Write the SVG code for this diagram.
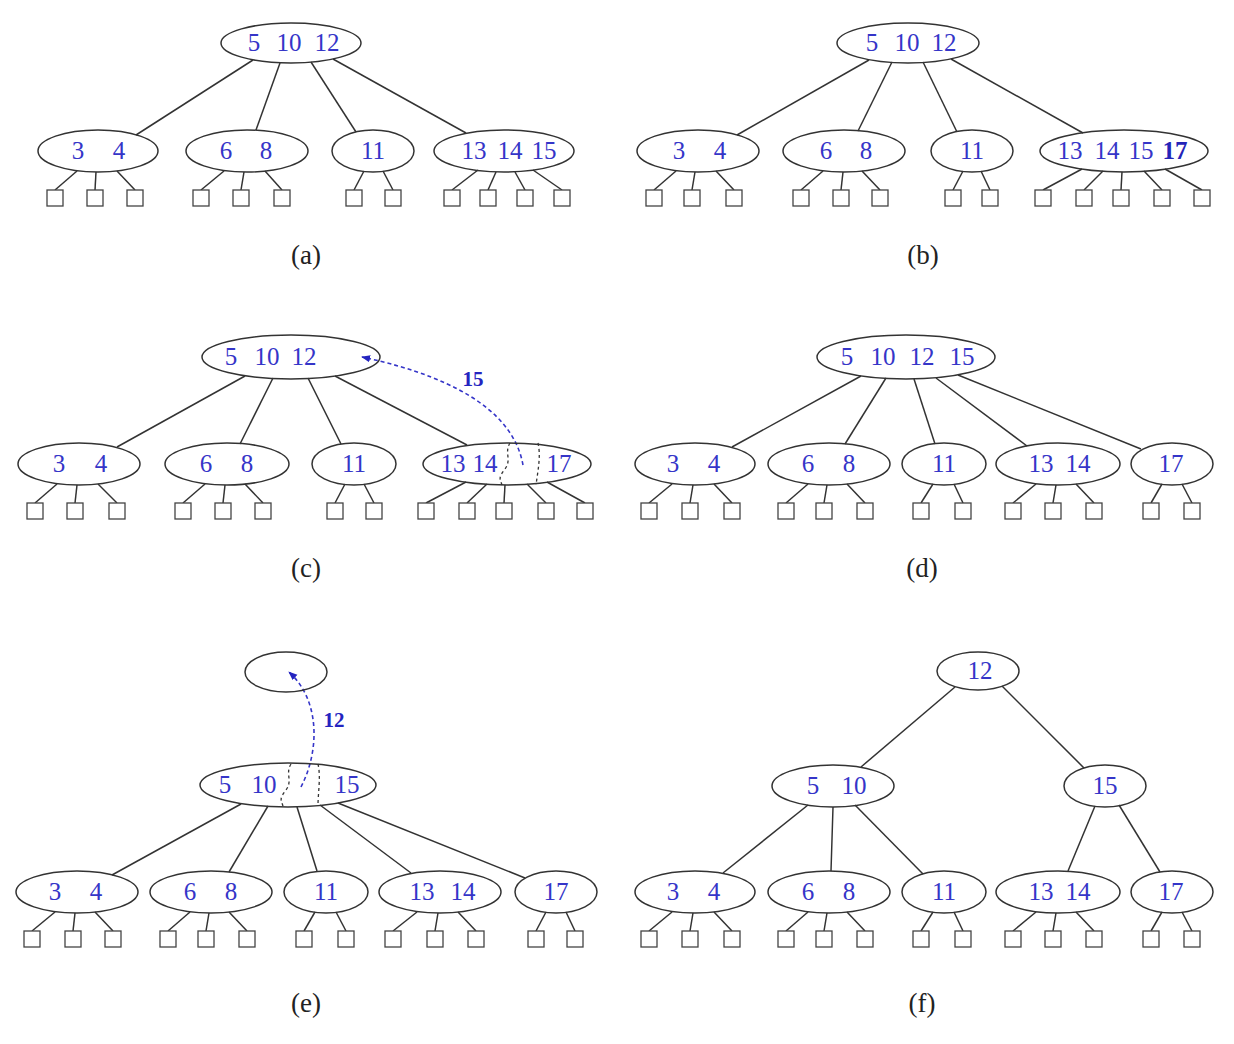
<svg xmlns="http://www.w3.org/2000/svg" width="1234" height="1044" viewBox="0 0 1234 1044">
<style>
.nd{fill:none;stroke:#333;stroke-width:1.5}
.lf{fill:#fff;stroke:#444;stroke-width:1.3}
.ed{stroke:#333;stroke-width:1.5;fill:none}
.t{font-family:"Liberation Serif",serif;font-size:25px;fill:#3535c8;text-anchor:middle}
.b{font-weight:bold;fill:#2424b8}
.lb{font-family:"Liberation Serif",serif;font-size:27px;fill:#222;text-anchor:middle}
.mv{stroke:#3535c8;stroke-width:1.6;fill:none;stroke-dasharray:4 3}
.dsh{stroke:#333;stroke-width:1.3;fill:none;stroke-dasharray:3 3}
.ml{font-family:"Liberation Serif",serif;font-size:21px;font-weight:bold;fill:#2424c0;text-anchor:middle}
</style>
<defs>
<marker id="ah" viewBox="0 0 10 10" refX="9" refY="5" markerWidth="9" markerHeight="9" markerUnits="userSpaceOnUse" orient="auto"><path d="M0,1 L10,5 L0,9 z" fill="#2424c0"/></marker>
</defs>
<rect width="1234" height="1044" fill="#fff"/>

<!-- connectors -->
<g id="connectors">
<!-- (a) -->
<line class="ed" x1="253" y1="60" x2="136" y2="135"/>
<line class="ed" x1="280" y1="63" x2="256" y2="130"/>
<line class="ed" x1="311" y1="62" x2="356" y2="132"/>
<line class="ed" x1="333" y1="59" x2="466" y2="133"/>
<line class="ed" x1="77" y1="171" x2="55" y2="190"/>
<line class="ed" x1="96" y1="172" x2="95" y2="190"/>
<line class="ed" x1="117" y1="171" x2="135" y2="190"/>
<line class="ed" x1="224" y1="171" x2="201" y2="190"/>
<line class="ed" x1="244" y1="172" x2="241" y2="190"/>
<line class="ed" x1="265" y1="171" x2="282" y2="190"/>
<line class="ed" x1="364" y1="171" x2="354" y2="190"/>
<line class="ed" x1="383" y1="171" x2="393" y2="190"/>
<line class="ed" x1="478" y1="170" x2="452" y2="190"/>
<line class="ed" x1="496" y1="172" x2="488" y2="190"/>
<line class="ed" x1="515" y1="172" x2="525" y2="190"/>
<line class="ed" x1="533" y1="170" x2="562" y2="190"/>
<!-- (b) -->
<line class="ed" x1="869" y1="60" x2="737" y2="135"/>
<line class="ed" x1="892" y1="62" x2="858" y2="131"/>
<line class="ed" x1="923" y1="62" x2="957" y2="132"/>
<line class="ed" x1="951" y1="59" x2="1083" y2="133"/>
<line class="ed" x1="676" y1="171" x2="654" y2="190"/>
<line class="ed" x1="695" y1="172" x2="692" y2="190"/>
<line class="ed" x1="716" y1="171" x2="734" y2="190"/>
<line class="ed" x1="823" y1="171" x2="801" y2="190"/>
<line class="ed" x1="843" y1="172" x2="841" y2="190"/>
<line class="ed" x1="862" y1="171" x2="880" y2="190"/>
<line class="ed" x1="963" y1="171" x2="953" y2="190"/>
<line class="ed" x1="981" y1="171" x2="990" y2="190"/>
<line class="ed" x1="1082" y1="169" x2="1043" y2="190"/>
<line class="ed" x1="1103" y1="171" x2="1084" y2="190"/>
<line class="ed" x1="1122" y1="172" x2="1121" y2="190"/>
<line class="ed" x1="1144" y1="171" x2="1162" y2="190"/>
<line class="ed" x1="1165" y1="169" x2="1202" y2="190"/>
<!-- (c) -->
<line class="ed" x1="245" y1="376" x2="117" y2="447"/>
<line class="ed" x1="273" y1="378" x2="240" y2="444"/>
<line class="ed" x1="308" y1="378" x2="341" y2="444"/>
<line class="ed" x1="335" y1="376" x2="467" y2="445"/>
<line class="ed" x1="57" y1="484" x2="35" y2="503"/>
<line class="ed" x1="77" y1="485" x2="75" y2="503"/>
<line class="ed" x1="98" y1="484" x2="117" y2="503"/>
<line class="ed" x1="205" y1="484" x2="183" y2="503"/>
<line class="ed" x1="225" y1="485" x2="223" y2="503"/>
<line class="ed" x1="245" y1="484" x2="263" y2="503"/>
<line class="ed" x1="345" y1="484" x2="335" y2="503"/>
<line class="ed" x1="364" y1="484" x2="374" y2="503"/>
<line class="ed" x1="466" y1="482" x2="426" y2="503"/>
<line class="ed" x1="487" y1="484" x2="467" y2="503"/>
<line class="ed" x1="505" y1="485" x2="504" y2="503"/>
<line class="ed" x1="527" y1="484" x2="546" y2="503"/>
<line class="ed" x1="547" y1="482" x2="585" y2="503"/>
<path class="dsh" d="M510,443 C504,452 512,460 505,469 S500,479 502,485"/>
<path class="dsh" d="M538,443 C541,456 538,470 536,485"/>
<path class="mv" d="M523,465 C515,420 470,380 362,357" marker-end="url(#ah)"/>
<!-- (d) -->
<line class="ed" x1="861" y1="376" x2="732" y2="447"/>
<line class="ed" x1="886" y1="378" x2="845" y2="444"/>
<line class="ed" x1="914" y1="379" x2="935" y2="444"/>
<line class="ed" x1="936" y1="378" x2="1027" y2="446"/>
<line class="ed" x1="958" y1="375" x2="1141" y2="449"/>
<line class="ed" x1="672" y1="484" x2="649" y2="503"/>
<line class="ed" x1="693" y1="485" x2="690" y2="503"/>
<line class="ed" x1="714" y1="484" x2="732" y2="503"/>
<line class="ed" x1="808" y1="484" x2="786" y2="503"/>
<line class="ed" x1="827" y1="485" x2="824" y2="503"/>
<line class="ed" x1="847" y1="484" x2="865" y2="503"/>
<line class="ed" x1="933" y1="484" x2="921" y2="503"/>
<line class="ed" x1="954" y1="484" x2="963" y2="503"/>
<line class="ed" x1="1036" y1="484" x2="1013" y2="503"/>
<line class="ed" x1="1056" y1="485" x2="1053" y2="503"/>
<line class="ed" x1="1076" y1="484" x2="1094" y2="503"/>
<line class="ed" x1="1162" y1="484" x2="1151" y2="503"/>
<line class="ed" x1="1182" y1="484" x2="1192" y2="503"/>
<!-- (e) -->
<line class="ed" x1="241" y1="804" x2="112" y2="875"/>
<line class="ed" x1="268" y1="806" x2="229" y2="872"/>
<line class="ed" x1="297" y1="807" x2="317" y2="871"/>
<line class="ed" x1="320" y1="805" x2="411" y2="873"/>
<line class="ed" x1="338" y1="803" x2="525" y2="878"/>
<line class="ed" x1="55" y1="912" x2="32" y2="931"/>
<line class="ed" x1="75" y1="913" x2="73" y2="931"/>
<line class="ed" x1="95" y1="912" x2="113" y2="931"/>
<line class="ed" x1="190" y1="912" x2="168" y2="931"/>
<line class="ed" x1="209" y1="913" x2="206" y2="931"/>
<line class="ed" x1="229" y1="912" x2="247" y2="931"/>
<line class="ed" x1="315" y1="912" x2="304" y2="931"/>
<line class="ed" x1="336" y1="912" x2="346" y2="931"/>
<line class="ed" x1="417" y1="912" x2="393" y2="931"/>
<line class="ed" x1="438" y1="913" x2="435" y2="931"/>
<line class="ed" x1="458" y1="912" x2="476" y2="931"/>
<line class="ed" x1="546" y1="912" x2="536" y2="931"/>
<line class="ed" x1="566" y1="912" x2="575" y2="931"/>
<path class="dsh" d="M291,764 C285,773 293,781 286,790 S281,800 283,806"/>
<path class="dsh" d="M318,764 C321,777 318,792 318,806"/>
<path class="mv" d="M301,787 C320,750 320,700 289,672" marker-end="url(#ah)"/>
<!-- (f) -->
<line class="ed" x1="955" y1="687" x2="861" y2="767"/>
<line class="ed" x1="1002" y1="686" x2="1084" y2="768"/>
<line class="ed" x1="808" y1="805" x2="723" y2="873"/>
<line class="ed" x1="833" y1="807" x2="831" y2="871"/>
<line class="ed" x1="855" y1="805" x2="923" y2="874"/>
<line class="ed" x1="1095" y1="806" x2="1068" y2="871"/>
<line class="ed" x1="1119" y1="805" x2="1160" y2="872"/>
<line class="ed" x1="672" y1="912" x2="649" y2="931"/>
<line class="ed" x1="693" y1="913" x2="690" y2="931"/>
<line class="ed" x1="714" y1="912" x2="732" y2="931"/>
<line class="ed" x1="808" y1="912" x2="786" y2="931"/>
<line class="ed" x1="827" y1="913" x2="824" y2="931"/>
<line class="ed" x1="847" y1="912" x2="865" y2="931"/>
<line class="ed" x1="933" y1="912" x2="921" y2="931"/>
<line class="ed" x1="954" y1="912" x2="963" y2="931"/>
<line class="ed" x1="1036" y1="912" x2="1013" y2="931"/>
<line class="ed" x1="1056" y1="913" x2="1053" y2="931"/>
<line class="ed" x1="1076" y1="912" x2="1094" y2="931"/>
<line class="ed" x1="1162" y1="912" x2="1151" y2="931"/>
<line class="ed" x1="1182" y1="912" x2="1192" y2="931"/>
</g>

<!-- move labels -->
<text class="ml" x="473" y="386">15</text>
<text class="ml" x="334" y="727">12</text>

<!-- panel (a) -->
<g id="a-root"><ellipse class="nd" cx="291" cy="43" rx="70" ry="20"/><text class="t" x="254" y="51">5</text><text class="t" x="289" y="51">10</text><text class="t" x="327" y="51">12</text></g>
<g id="a-n34"><ellipse class="nd" cx="98" cy="151" rx="60" ry="21"/><text class="t" x="78" y="159">3</text><text class="t" x="119" y="159">4</text></g>
<g id="a-n68"><ellipse class="nd" cx="247" cy="151" rx="61" ry="21"/><text class="t" x="226" y="159">6</text><text class="t" x="266" y="159">8</text></g>
<g id="a-n11"><ellipse class="nd" cx="373" cy="151" rx="41" ry="21"/><text class="t" x="373" y="159">11</text></g>
<g id="a-n131415"><ellipse class="nd" cx="504" cy="151" rx="70" ry="21"/><text class="t" x="474" y="159">13</text><text class="t" x="510" y="159">14</text><text class="t" x="544" y="159">15</text></g>
<g id="a-leaves">
<rect class="lf" x="47" y="190" width="16" height="16"/><rect class="lf" x="87" y="190" width="16" height="16"/><rect class="lf" x="127" y="190" width="16" height="16"/>
<rect class="lf" x="193" y="190" width="16" height="16"/><rect class="lf" x="233" y="190" width="16" height="16"/><rect class="lf" x="274" y="190" width="16" height="16"/>
<rect class="lf" x="346" y="190" width="16" height="16"/><rect class="lf" x="385" y="190" width="16" height="16"/>
<rect class="lf" x="444" y="190" width="16" height="16"/><rect class="lf" x="480" y="190" width="16" height="16"/><rect class="lf" x="517" y="190" width="16" height="16"/><rect class="lf" x="554" y="190" width="16" height="16"/>
</g>
<text class="lb" x="306" y="264">(a)</text>

<!-- panel (b) -->
<g id="b-root"><ellipse class="nd" cx="908" cy="43" rx="71" ry="20"/><text class="t" x="872" y="51">5</text><text class="t" x="907" y="51">10</text><text class="t" x="944" y="51">12</text></g>
<g id="b-n34"><ellipse class="nd" cx="698" cy="151" rx="61" ry="21"/><text class="t" x="679" y="159">3</text><text class="t" x="720" y="159">4</text></g>
<g id="b-n68"><ellipse class="nd" cx="844" cy="151" rx="61" ry="21"/><text class="t" x="826" y="159">6</text><text class="t" x="866" y="159">8</text></g>
<g id="b-n11"><ellipse class="nd" cx="972" cy="151" rx="41" ry="21"/><text class="t" x="972" y="159">11</text></g>
<g id="b-n13141517"><ellipse class="nd" cx="1124" cy="151" rx="84" ry="21"/><text class="t" x="1070" y="159">13</text><text class="t" x="1107" y="159">14</text><text class="t" x="1141" y="159">15</text><text class="t b" x="1175" y="159">17</text></g>
<g id="b-leaves">
<rect class="lf" x="646" y="190" width="16" height="16"/><rect class="lf" x="684" y="190" width="16" height="16"/><rect class="lf" x="726" y="190" width="16" height="16"/>
<rect class="lf" x="793" y="190" width="16" height="16"/><rect class="lf" x="833" y="190" width="16" height="16"/><rect class="lf" x="872" y="190" width="16" height="16"/>
<rect class="lf" x="945" y="190" width="16" height="16"/><rect class="lf" x="982" y="190" width="16" height="16"/>
<rect class="lf" x="1035" y="190" width="16" height="16"/><rect class="lf" x="1076" y="190" width="16" height="16"/><rect class="lf" x="1113" y="190" width="16" height="16"/><rect class="lf" x="1154" y="190" width="16" height="16"/><rect class="lf" x="1194" y="190" width="16" height="16"/>
</g>
<text class="lb" x="923" y="264">(b)</text>

<!-- panel (c) -->
<g id="c-root"><ellipse class="nd" cx="291" cy="357" rx="89" ry="22"/><text class="t" x="231" y="365">5</text><text class="t" x="267" y="365">10</text><text class="t" x="304" y="365">12</text></g>
<g id="c-n34"><ellipse class="nd" cx="79" cy="464" rx="61" ry="21"/><text class="t" x="59" y="472">3</text><text class="t" x="101" y="472">4</text></g>
<g id="c-n68"><ellipse class="nd" cx="227" cy="464" rx="62" ry="21"/><text class="t" x="206" y="472">6</text><text class="t" x="247" y="472">8</text></g>
<g id="c-n11"><ellipse class="nd" cx="354" cy="464" rx="42" ry="21"/><text class="t" x="354" y="472">11</text></g>
<g id="c-n131417"><ellipse class="nd" cx="507" cy="464" rx="84" ry="21"/><text class="t" x="453" y="472">13</text><text class="t" x="485" y="472">14</text><text class="t" x="559" y="472">17</text></g>
<g id="c-leaves">
<rect class="lf" x="27" y="503" width="16" height="16"/><rect class="lf" x="67" y="503" width="16" height="16"/><rect class="lf" x="109" y="503" width="16" height="16"/>
<rect class="lf" x="175" y="503" width="16" height="16"/><rect class="lf" x="215" y="503" width="16" height="16"/><rect class="lf" x="255" y="503" width="16" height="16"/>
<rect class="lf" x="327" y="503" width="16" height="16"/><rect class="lf" x="366" y="503" width="16" height="16"/>
<rect class="lf" x="418" y="503" width="16" height="16"/><rect class="lf" x="459" y="503" width="16" height="16"/><rect class="lf" x="496" y="503" width="16" height="16"/><rect class="lf" x="538" y="503" width="16" height="16"/><rect class="lf" x="577" y="503" width="16" height="16"/>
</g>
<text class="lb" x="306" y="577">(c)</text>

<!-- panel (d) -->
<g id="d-root"><ellipse class="nd" cx="906" cy="357" rx="89" ry="22"/><text class="t" x="847" y="365">5</text><text class="t" x="883" y="365">10</text><text class="t" x="922" y="365">12</text><text class="t" x="962" y="365">15</text></g>
<g id="d-n34"><ellipse class="nd" cx="695" cy="464" rx="60" ry="21"/><text class="t" x="673" y="472">3</text><text class="t" x="714" y="472">4</text></g>
<g id="d-n68"><ellipse class="nd" cx="829" cy="464" rx="61" ry="21"/><text class="t" x="808" y="472">6</text><text class="t" x="849" y="472">8</text></g>
<g id="d-n11"><ellipse class="nd" cx="944" cy="464" rx="42" ry="21"/><text class="t" x="944" y="472">11</text></g>
<g id="d-n1314"><ellipse class="nd" cx="1058" cy="464" rx="62" ry="21"/><text class="t" x="1041" y="472">13</text><text class="t" x="1078" y="472">14</text></g>
<g id="d-n17"><ellipse class="nd" cx="1172" cy="464" rx="41" ry="21"/><text class="t" x="1171" y="472">17</text></g>
<g id="d-leaves">
<rect class="lf" x="641" y="503" width="16" height="16"/><rect class="lf" x="682" y="503" width="16" height="16"/><rect class="lf" x="724" y="503" width="16" height="16"/>
<rect class="lf" x="778" y="503" width="16" height="16"/><rect class="lf" x="816" y="503" width="16" height="16"/><rect class="lf" x="857" y="503" width="16" height="16"/>
<rect class="lf" x="913" y="503" width="16" height="16"/><rect class="lf" x="955" y="503" width="16" height="16"/>
<rect class="lf" x="1005" y="503" width="16" height="16"/><rect class="lf" x="1045" y="503" width="16" height="16"/><rect class="lf" x="1086" y="503" width="16" height="16"/>
<rect class="lf" x="1143" y="503" width="16" height="16"/><rect class="lf" x="1184" y="503" width="16" height="16"/>
</g>
<text class="lb" x="922" y="577">(d)</text>

<!-- panel (e) -->
<g id="e-newroot"><ellipse class="nd" cx="286" cy="672" rx="41" ry="20"/></g>
<g id="e-root"><ellipse class="nd" cx="288" cy="785" rx="88" ry="22"/><text class="t" x="225" y="793">5</text><text class="t" x="264" y="793">10</text><text class="t" x="347" y="793">15</text></g>
<g id="e-n34"><ellipse class="nd" cx="77" cy="892" rx="61" ry="21"/><text class="t" x="55" y="900">3</text><text class="t" x="96" y="900">4</text></g>
<g id="e-n68"><ellipse class="nd" cx="211" cy="892" rx="61" ry="21"/><text class="t" x="190" y="900">6</text><text class="t" x="231" y="900">8</text></g>
<g id="e-n11"><ellipse class="nd" cx="326" cy="892" rx="42" ry="21"/><text class="t" x="326" y="900">11</text></g>
<g id="e-n1314"><ellipse class="nd" cx="440" cy="892" rx="61" ry="21"/><text class="t" x="422" y="900">13</text><text class="t" x="463" y="900">14</text></g>
<g id="e-n17"><ellipse class="nd" cx="556" cy="892" rx="41" ry="21"/><text class="t" x="556" y="900">17</text></g>
<g id="e-leaves">
<rect class="lf" x="24" y="931" width="16" height="16"/><rect class="lf" x="65" y="931" width="16" height="16"/><rect class="lf" x="105" y="931" width="16" height="16"/>
<rect class="lf" x="160" y="931" width="16" height="16"/><rect class="lf" x="198" y="931" width="16" height="16"/><rect class="lf" x="239" y="931" width="16" height="16"/>
<rect class="lf" x="296" y="931" width="16" height="16"/><rect class="lf" x="338" y="931" width="16" height="16"/>
<rect class="lf" x="385" y="931" width="16" height="16"/><rect class="lf" x="427" y="931" width="16" height="16"/><rect class="lf" x="468" y="931" width="16" height="16"/>
<rect class="lf" x="528" y="931" width="16" height="16"/><rect class="lf" x="567" y="931" width="16" height="16"/>
</g>
<text class="lb" x="306" y="1012">(e)</text>

<!-- panel (f) -->
<g id="f-root"><ellipse class="nd" cx="978" cy="671" rx="41" ry="19"/><text class="t" x="980" y="679">12</text></g>
<g id="f-n510"><ellipse class="nd" cx="833" cy="786" rx="61" ry="21"/><text class="t" x="813" y="794">5</text><text class="t" x="854" y="794">10</text></g>
<g id="f-n15"><ellipse class="nd" cx="1105" cy="786" rx="41" ry="21"/><text class="t" x="1105" y="794">15</text></g>
<g id="f-n34"><ellipse class="nd" cx="695" cy="892" rx="60" ry="21"/><text class="t" x="673" y="900">3</text><text class="t" x="714" y="900">4</text></g>
<g id="f-n68"><ellipse class="nd" cx="829" cy="892" rx="61" ry="21"/><text class="t" x="808" y="900">6</text><text class="t" x="849" y="900">8</text></g>
<g id="f-n11"><ellipse class="nd" cx="944" cy="892" rx="42" ry="21"/><text class="t" x="944" y="900">11</text></g>
<g id="f-n1314"><ellipse class="nd" cx="1058" cy="892" rx="62" ry="21"/><text class="t" x="1041" y="900">13</text><text class="t" x="1078" y="900">14</text></g>
<g id="f-n17"><ellipse class="nd" cx="1172" cy="892" rx="41" ry="21"/><text class="t" x="1171" y="900">17</text></g>
<g id="f-leaves">
<rect class="lf" x="641" y="931" width="16" height="16"/><rect class="lf" x="682" y="931" width="16" height="16"/><rect class="lf" x="724" y="931" width="16" height="16"/>
<rect class="lf" x="778" y="931" width="16" height="16"/><rect class="lf" x="816" y="931" width="16" height="16"/><rect class="lf" x="857" y="931" width="16" height="16"/>
<rect class="lf" x="913" y="931" width="16" height="16"/><rect class="lf" x="955" y="931" width="16" height="16"/>
<rect class="lf" x="1005" y="931" width="16" height="16"/><rect class="lf" x="1045" y="931" width="16" height="16"/><rect class="lf" x="1086" y="931" width="16" height="16"/>
<rect class="lf" x="1143" y="931" width="16" height="16"/><rect class="lf" x="1184" y="931" width="16" height="16"/>
</g>
<text class="lb" x="922" y="1012">(f)</text>
</svg>
